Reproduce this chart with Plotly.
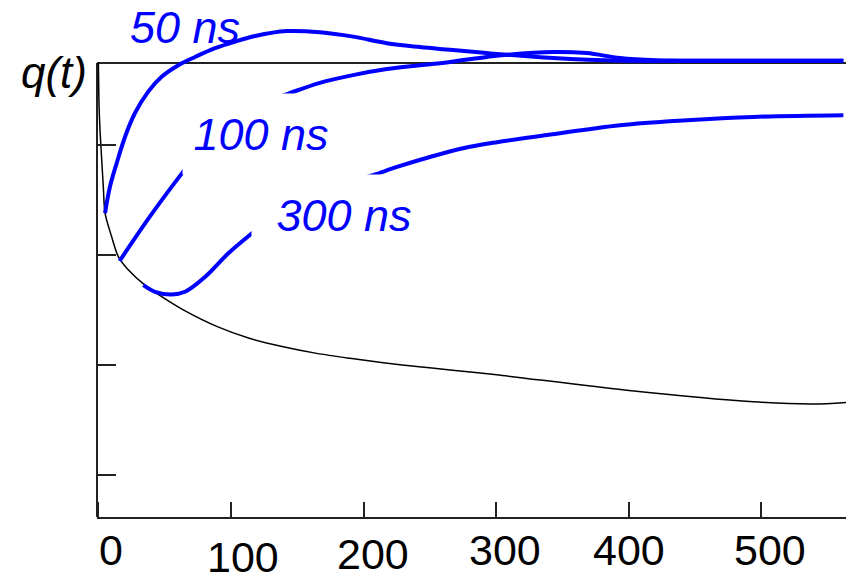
import plotly.graph_objects as go

# ---- data (t in ns, q arbitrary units; q = 1 at the top of the frame) ----
t_ref = [0, 0.45, 1.2, 2.5, 3.7, 5.0, 10.0, 15.0, 22.5, 35.1, 47.7, 64.0, 89.2, 114.3,
         139.4, 164.6, 189.7, 214.9, 240.0, 265.2, 300.4, 398.4, 493.9, 539.1, 564.5]
q_ref = [1.0, 0.927, 0.878, 0.824, 0.775, 0.727, 0.684, 0.648, 0.624, 0.596, 0.575,
         0.551, 0.521, 0.499, 0.484, 0.472, 0.463, 0.455, 0.448, 0.442, 0.433, 0.405,
         0.384, 0.380, 0.383]

t_50 = [5.0, 8.7, 13.8, 20.1, 27.6, 37.6, 47.7, 60.3, 72.9, 88.0, 103.1, 118.2, 142,
        167.1, 192.2, 217.4, 242.5, 265.2, 292.8, 342.8, 393.4, 433.6, 561.8]
q_50 = [0.727, 0.775, 0.818, 0.866, 0.909, 0.948, 0.975, 0.996, 1.011, 1.027, 1.039,
        1.049, 1.058, 1.056, 1.048, 1.036, 1.029, 1.024, 1.018, 1.009, 1.004, 1.004, 1.004]

t_100 = [16.0, 38.9, 63.8, 84.2, 106.8, 125.6, 142.9, 167, 192, 217.6, 242.5, 265.2,
         292.8, 307.9, 342.8, 368.2, 393.4, 421, 454, 561.8]
q_100 = [0.640, 0.721, 0.802, 0.864, 0.905, 0.929, 0.944, 0.964, 0.978, 0.989, 0.996,
         1.002, 1.011, 1.015, 1.020, 1.018, 1.009, 1.005, 1.004, 1.004]

t_300 = [33.9, 42.7, 55.3, 65.3, 80.4, 98.0, 115.6, 137, 159.5, 182.2, 207, 225.2, 250,
         275, 300.6, 338.3, 393.4, 443.7, 493.9, 561.8]
q_300 = [0.596, 0.584, 0.579, 0.584, 0.611, 0.654, 0.690, 0.731, 0.758, 0.778, 0.796,
         0.811, 0.829, 0.845, 0.856, 0.869, 0.887, 0.896, 0.902, 0.905]

x_ticks = [0, 100, 200, 300, 400, 500]
x_tick_labels = ["0", "100", "200", "300", "400", "500"]
y_ticks = [0.85, 0.65, 0.45, 0.25]
Q_TOP = 1.0

series_labels = ["50 ns", "100 ns", "300 ns"]

# ---- layout constants ----
# The page body has an 8px default margin, so the figure is sized to fill the
# remaining window area (854-8 by 574-8).
X_RANGE = [-1.06, 564.55]
Y_RANGE = [0.1745, 1.1]
BLUE = "#0000FF"
FRAME = "#222222"
FONT = "Liberation Sans, Arial, sans-serif"

# pixel nudges of the hand-placed tick labels (as in the original figure)
tick_label_dx = [13, 12, 9, 9, 0, 9]
tick_label_dy = [-33, -40, -37, -33, -33, -33]

fig = go.Figure()
fig.add_trace(go.Scatter(x=t_ref, y=q_ref, mode="lines",
                         line=dict(color="black", width=1.5, shape="spline", smoothing=0.8),
                         showlegend=False, hoverinfo="skip"))
for tt, qq in [(t_50, q_50), (t_100, q_100), (t_300, q_300)]:
    fig.add_trace(go.Scatter(x=tt, y=qq, mode="lines",
                             line=dict(color=BLUE, width=4, shape="spline", smoothing=1.0),
                             showlegend=False, hoverinfo="skip"))

frac_top = (Q_TOP - Y_RANGE[0]) / (Y_RANGE[1] - Y_RANGE[0])
for x0, y0, x1, y1 in [(0, 0, 0, frac_top), (0, frac_top, 1, frac_top), (1, 0, 1, frac_top)]:
    fig.add_shape(type="line", xref="x domain", yref="y domain",
                  x0=x0, y0=y0, x1=x1, y1=y1, layer="below",
                  line=dict(color=FRAME, width=2))

# series labels (white boxes hide the curves behind the text, as in the original)
label_pos = [(65.3, 1.065, None, None, None),
             (122.7, 0.871, 156, 80, "white"),
             (185.0, 0.724, 184, 80, "white")]
for text, (lx, ly, w, h, bg) in zip(series_labels, label_pos):
    kw = dict(width=w, height=h, bgcolor=bg) if bg else {}
    fig.add_annotation(x=lx, y=ly, xref="x", yref="y", text=f"<i>{text}</i>",
                       showarrow=False, xanchor="center", yanchor="middle",
                       font=dict(family=FONT, size=45, color=BLUE), borderpad=0, **kw)

# x tick labels
for tv, tl, dx, dy in zip(x_ticks, x_tick_labels, tick_label_dx, tick_label_dy):
    fig.add_annotation(x=tv, y=0, xref="x", yref="paper", text=tl, showarrow=False,
                       xanchor="center", yanchor="middle", xshift=dx, yshift=dy,
                       font=dict(family=FONT, size=43, color="black"))

fig.add_annotation(x=-0.057, y=0.874, xref="paper", yref="paper", text="<i>q(t)</i>",
                   showarrow=False, xanchor="center", yanchor="middle",
                   font=dict(family=FONT, size=44, color="black"))

fig.update_layout(
    width=846, height=566,
    margin=dict(l=89, r=7, t=0, b=57, pad=0, autoexpand=False),
    paper_bgcolor="white", plot_bgcolor="white",
    xaxis=dict(range=X_RANGE, showgrid=False, zeroline=False, showline=True,
               automargin=False,
               linecolor=FRAME, linewidth=2, ticks="inside", ticklen=15, tickwidth=2,
               tickcolor=FRAME, tickvals=x_ticks, showticklabels=False),
    yaxis=dict(range=Y_RANGE, showgrid=False, zeroline=False, showline=False,
               automargin=False,
               ticks="inside", ticklen=19, tickwidth=2, tickcolor=FRAME,
               tickvals=y_ticks, showticklabels=False),
)

fig.write_html("out.html")
